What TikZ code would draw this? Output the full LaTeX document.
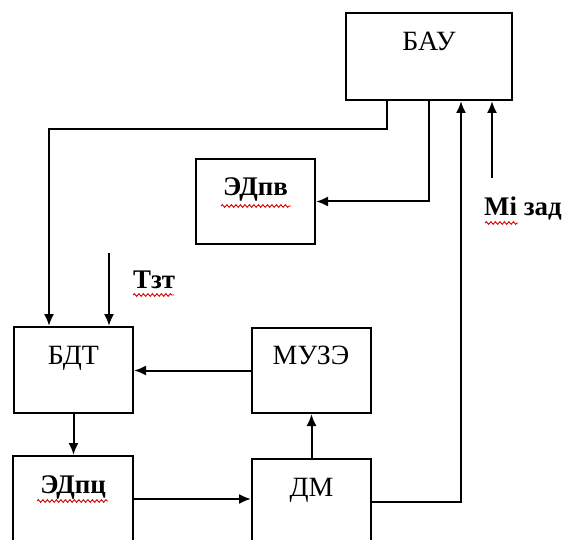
\documentclass[tikz,border=0pt]{standalone}
\usepackage{fontspec}
\setmainfont{Liberation Serif}
\usetikzlibrary{arrows.meta,decorations.pathmorphing}

\tikzset{
  block/.style={draw, line width=2bp, inner sep=0pt, text height=19bp, text depth=31bp,
    minimum width=119bp, minimum height=86bp, font=\fontsize{28}{33}\selectfont},
  heavy/.style={font=\fontsize{27}{32}\selectfont\bfseries},
  flow/.style={line width=2bp, -{Latex[length=12bp,width=10bp]}},
  spell/.style={red!85!black, line width=0.9bp, decorate,
    decoration={snake, amplitude=1.3bp, segment length=4.5bp}},
}

\begin{document}
\begin{tikzpicture}[x=1bp, y=-1bp]

  \useasboundingbox (0,0) rectangle (566,540);
  \clip (0,0) rectangle (566,540);

  % blocks
  \node[block, minimum width=166bp, minimum height=87bp] (bau) at (429,56.5) {БАУ};
  \node[block, heavy, minimum height=85bp] (edpv) at (255.5,201.5) {ЭДпв};
  \node[block] (bdt)  at (73.5,370)  {БДТ};
  \node[block, minimum height=85bp] (muze) at (311,370.5) {МУЗЭ};
  \node[block, heavy] (edpc) at (73,499)  {ЭДпц};
  \node[block] (dm)   at (311.5,502) {ДМ};

  % input labels
  \node[heavy, inner sep=0pt, anchor=base west] (tzt)   at (133,288) {Тзт};
  \node[heavy, inner sep=0pt, anchor=base west] (mizad) at (484,216) {Mi зад};
  \coordinate (tzt in) at (109,253);
  \coordinate (mi in)  at (492,178);

  % connections
  \draw[flow] ([xshift=-42bp]bau.south) -- ++(0,28) -| ([xshift=-24.5bp]bdt.north);
  \draw[flow] (bau.south) |- (edpv.east);
  \draw[flow] (tzt in) -- (tzt in |- bdt.north);
  \draw[flow] (muze.west) -- (bdt.east |- muze.west);
  \draw[flow] (bdt.south) -- (bdt.south |- edpc.north);
  \draw[flow] (edpc.east) -- (edpc.east -| dm.west);
  \draw[flow] (dm.north) -- (dm.north |- muze.south);
  \draw[flow] (dm.east) -| ([xshift=32bp]bau.south);
  \draw[flow] (mi in) -- (mi in |- bau.south);

  % spell-check underlines
  \draw[spell] (221,206) -- (291,206);
  \draw[spell] (37,501)  -- (108,501);
  \draw[spell] (133,295) -- (174,295);
  \draw[spell] (485,223) -- (518,223);

\end{tikzpicture}
\end{document}
